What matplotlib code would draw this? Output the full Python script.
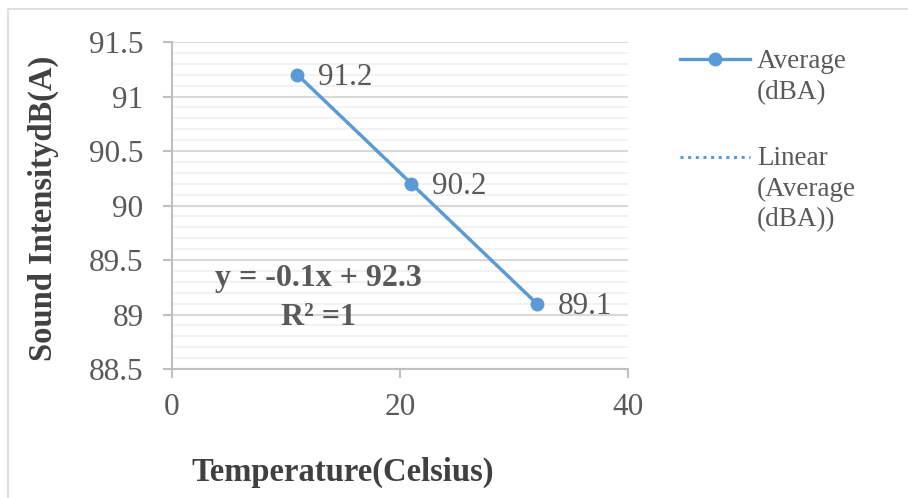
import numpy as np
import matplotlib
matplotlib.use("Agg")
import matplotlib.pyplot as plt
from matplotlib.lines import Line2D
from matplotlib.patches import Rectangle
from matplotlib.ticker import MultipleLocator

# ---- data ----
temperature = [11, 21, 32]
average_dba = [91.2, 90.2, 89.1]
x_ticks = [0, 20, 40]
y_ticks = [88.5, 89, 89.5, 90, 90.5, 91, 91.5]
y_tick_labels = ["88.5", "89", "89.5", "90", "90.5", "91", "91.5"]
series_label = "Average\n(dBA)"
trend_label = "Linear\n(Average\n(dBA))"
x_title = "Temperature(Celsius)"
y_title = "Sound IntensitydB(A)"

plt.rcParams['font.family'] = ['Liberation Serif', 'DejaVu Serif']

W, H = 908, 498
fig = plt.figure(figsize=(W / 100, H / 100), dpi=100)
fx = lambda px: px / W
fy = lambda py: 1 - py / H

blue = "#5B9BD5"
txt = "#595959"
dark = "#404040"

# figure border
fig.add_artist(Rectangle((fx(8), fy(520)), 2, fy(9) - fy(520), transform=fig.transFigure,
                         fill=False, edgecolor="#D9D9D9", linewidth=1.2))

ax = fig.add_axes([fx(172), fy(369), fx(628) - fx(172), fy(42) - fy(369)])
ax.set_xlim(0, 40)
ax.set_ylim(88.5, 91.5)
ax.set_xticks(x_ticks)
ax.set_yticks(y_ticks)
ax.set_yticklabels(y_tick_labels)
ax.yaxis.set_minor_locator(MultipleLocator(0.1))
ax.grid(True, which="major", axis="y", color="#D9D9D9", linewidth=1.5)
ax.grid(True, which="minor", axis="y", color="#EFEFEF", linewidth=1.1)
ax.set_axisbelow(True)
for s in ["top", "right"]:
    ax.spines[s].set_visible(False)
for s in ["left", "bottom"]:
    ax.spines[s].set_color("#BFBFBF")
    ax.spines[s].set_linewidth(1.5)
ax.tick_params(axis="y", which="major", length=6.5, width=1.5, color="#BFBFBF",
               labelsize=22.5, labelcolor=txt, pad=14)
ax.tick_params(axis="y", which="minor", length=0)
ax.tick_params(axis="x", which="major", length=6.5, width=1.5, color="#BFBFBF",
               labelsize=22.5, labelcolor=txt, pad=11)

# trendline
slope, intercept = np.polyfit(temperature, average_dba, 1)
pred = np.polyval([slope, intercept], temperature)
r2 = 1 - np.sum((np.array(average_dba) - pred) ** 2) / np.sum((np.array(average_dba) - np.mean(average_dba)) ** 2)
tx = np.array([min(temperature), max(temperature)])
ax.plot(tx, slope * tx + intercept, linestyle=(0, (1, 1.5)), color=blue, linewidth=2.2, zorder=2)

# data line
ax.plot(temperature, average_dba, color=blue, linewidth=2.4, marker="o", markersize=9, zorder=3)
for x, y in zip(temperature, average_dba):
    ax.annotate(f"{y:.1f}", (x, y), xytext=(15, -2), textcoords="offset points",
                ha="left", va="center", fontsize=22.5, color=txt)

eq = f"y = {slope:.1f}x + {intercept:.1f}\nR² ={r2:.0f}"
ax.text((318 - 172) / 456, (369 - 298) / 327, eq, transform=ax.transAxes, ha="center",
        va="center", multialignment="center", fontsize=23, fontweight="bold", color=txt,
        linespacing=1.45)

# axis titles
fig.text(fx(343), fy(472), x_title, ha="center", va="center", fontsize=23.5,
         fontweight="bold", color=dark)
fig.text(fx(43), fy(208), y_title, ha="center", va="center", rotation=90, fontsize=23.5,
         fontweight="bold", color=dark)

# legend (manual)
fig.add_artist(Line2D([fx(680), fx(750)], [fy(59.3), fy(59.3)], transform=fig.transFigure,
                      color=blue, linewidth=2.4))
fig.add_artist(Line2D([fx(715)], [fy(59.3)], transform=fig.transFigure, color=blue,
                      marker="o", markersize=9))
fig.add_artist(Line2D([fx(680), fx(750)], [fy(156.7), fy(156.7)], transform=fig.transFigure,
                      color=blue, linewidth=2.2, linestyle=(0, (1, 1.5))))
for label, base in [(series_label, 68.3), (trend_label, 165.0)]:
    for i, line in enumerate(label.split("\n")):
        fig.text(fx(757), fy(base + 30.5 * i), line, ha="left", va="baseline",
                 fontsize=19.5, color=txt)

fig.savefig("out.png", dpi=100)
